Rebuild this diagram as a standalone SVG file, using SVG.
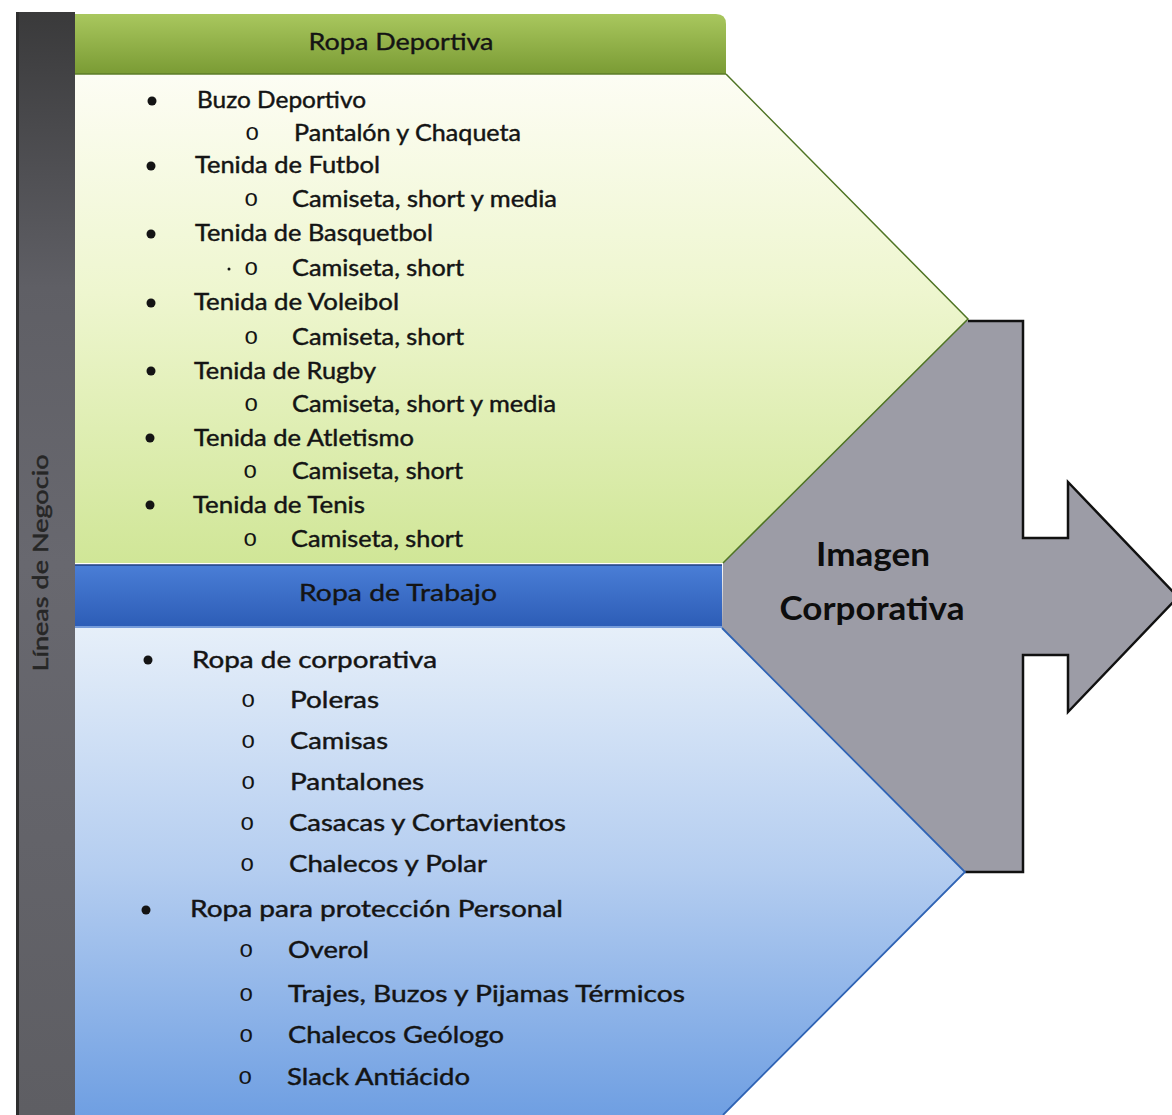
<svg xmlns="http://www.w3.org/2000/svg" width="1172" height="1115" viewBox="0 0 1172 1115">
  <defs>
    <linearGradient id="barGrad" x1="0" y1="12" x2="0" y2="1115" gradientUnits="userSpaceOnUse">
      <stop offset="0" stop-color="#3a3a3b"/>
      <stop offset="0.25" stop-color="#5f5f65"/>
      <stop offset="0.5" stop-color="#68686f"/>
      <stop offset="1" stop-color="#5e5e63"/>
    </linearGradient>
    <linearGradient id="greenHead" x1="0" y1="0" x2="0" y2="1">
      <stop offset="0" stop-color="#a9c75e"/>
      <stop offset="1" stop-color="#7a9b34"/>
    </linearGradient>
    <linearGradient id="greenBody" x1="0" y1="74" x2="0" y2="563" gradientUnits="userSpaceOnUse">
      <stop offset="0" stop-color="#fdfdf4"/>
      <stop offset="0.45" stop-color="#eef6cf"/>
      <stop offset="1" stop-color="#d0e697"/>
    </linearGradient>
    <linearGradient id="blueHead" x1="0" y1="0" x2="0" y2="1">
      <stop offset="0" stop-color="#4a7ed6"/>
      <stop offset="1" stop-color="#2c5cb6"/>
    </linearGradient>
    <linearGradient id="blueBody" x1="0" y1="628" x2="0" y2="1115" gradientUnits="userSpaceOnUse">
      <stop offset="0" stop-color="#e6eff9"/>
      <stop offset="0.5" stop-color="#b4cdf0"/>
      <stop offset="1" stop-color="#6f9fe2"/>
    </linearGradient>
    <style>
      .item { font-family: Lato, "Liberation Sans", sans-serif; font-size: 24px; fill: #141414; stroke: #141414; stroke-width: 0.45px; }
      .mark { font-family: "Liberation Mono", monospace; font-size: 24px; fill: #141414; }
      .head { font-family: Lato, "Liberation Sans", sans-serif; font-size: 23px; fill: #141414; stroke: #141414; stroke-width: 0.35px; text-anchor: middle; }
      .big { font-family: Lato, "Liberation Sans", sans-serif; font-size: 32px; font-weight: bold; fill: #0d0d0d; text-anchor: middle; }
      .side { font-family: Lato, "Liberation Sans", sans-serif; font-size: 22px; fill: #262626; stroke: #262626; stroke-width: 0.5px; text-anchor: middle; }
    </style>
  </defs>

  <rect width="1172" height="1115" fill="#ffffff"/>

  <!-- vertical business-lines bar -->
  <g id="side-bar">
    <rect x="16" y="12" width="59" height="1103" fill="url(#barGrad)"/>
    <rect x="16" y="12" width="3" height="1103" fill="#2e2e2e"/>
    <text class="side" transform="translate(48 563) rotate(-90)" textLength="217" lengthAdjust="spacingAndGlyphs">Líneas de Negocio</text>
  </g>

  <!-- corporate image arrow (behind the two panels) -->
  <g id="corporate-image">
    <polygon points="726,74 968,321 1023,321 1023,538 1068,538 1068,482 1178,597 1068,712 1068,655 1023,655 1023,872 965,872 722,628 723,563" fill="#9c9ca6"/>
    <polyline points="968,321 1023,321 1023,538 1068,538 1068,482 1178,597 1068,712 1068,655 1023,655 1023,872 965,872" fill="none" stroke="#111" stroke-width="2.5" stroke-linejoin="miter"/>
    <text class="big" x="873" y="566" textLength="114" lengthAdjust="spacingAndGlyphs">Imagen</text>
    <text class="big" x="872" y="620" textLength="185" lengthAdjust="spacingAndGlyphs">Corporativa</text>
  </g>

  <!-- sportswear line -->
  <g id="sportswear">
    <polygon points="75,74 726,74 968,319 723,563 75,563" fill="url(#greenBody)"/>
    <polyline points="726,74 968,319 723,563" fill="none" stroke="#4f7424" stroke-width="1.5"/>
    <path d="M75,14 H716 Q726,14 726,24 V74 H75 Z" fill="url(#greenHead)"/>
    <line x1="75" y1="74" x2="726" y2="74" stroke="#5d7d28" stroke-width="1.5"/>
    <text class="head" x="401" y="50" textLength="185" lengthAdjust="spacingAndGlyphs">Ropa Deportiva</text>

    <circle cx="152" cy="101" r="4.5" fill="#141414"/>
    <text class="item" x="197" y="108" textLength="169" lengthAdjust="spacingAndGlyphs">Buzo Deportivo</text>
    <text class="mark" x="245" y="140">o</text>
    <text class="item" x="294" y="141" textLength="227" lengthAdjust="spacingAndGlyphs">Pantalón y Chaqueta</text>

    <circle cx="151" cy="166" r="4.5" fill="#141414"/>
    <text class="item" x="195" y="173" textLength="185" lengthAdjust="spacingAndGlyphs">Tenida de Futbol</text>
    <text class="mark" x="244" y="206">o</text>
    <text class="item" x="292" y="207" textLength="265" lengthAdjust="spacingAndGlyphs">Camiseta, short y media</text>

    <circle cx="151" cy="234" r="4.5" fill="#141414"/>
    <text class="item" x="195" y="241" textLength="238" lengthAdjust="spacingAndGlyphs">Tenida de Basquetbol</text>
    <circle cx="229" cy="269" r="1.5" fill="#141414"/>
    <text class="mark" x="244" y="275">o</text>
    <text class="item" x="292" y="276" textLength="172" lengthAdjust="spacingAndGlyphs">Camiseta, short</text>

    <circle cx="151" cy="303" r="4.5" fill="#141414"/>
    <text class="item" x="194" y="310" textLength="205" lengthAdjust="spacingAndGlyphs">Tenida de Voleibol</text>
    <text class="mark" x="244" y="344">o</text>
    <text class="item" x="292" y="345" textLength="172" lengthAdjust="spacingAndGlyphs">Camiseta, short</text>

    <circle cx="151" cy="371" r="4.5" fill="#141414"/>
    <text class="item" x="194" y="379" textLength="182" lengthAdjust="spacingAndGlyphs">Tenida de Rugby</text>
    <text class="mark" x="244" y="411">o</text>
    <text class="item" x="292" y="412" textLength="264" lengthAdjust="spacingAndGlyphs">Camiseta, short y media</text>

    <circle cx="150" cy="438" r="4.5" fill="#141414"/>
    <text class="item" x="194" y="446" textLength="220" lengthAdjust="spacingAndGlyphs">Tenida de Atletismo</text>
    <text class="mark" x="243" y="478">o</text>
    <text class="item" x="292" y="479" textLength="171" lengthAdjust="spacingAndGlyphs">Camiseta, short</text>

    <circle cx="150" cy="505" r="4.5" fill="#141414"/>
    <text class="item" x="193" y="513" textLength="172" lengthAdjust="spacingAndGlyphs">Tenida de Tenis</text>
    <text class="mark" x="243" y="546">o</text>
    <text class="item" x="291" y="547" textLength="172" lengthAdjust="spacingAndGlyphs">Camiseta, short</text>
  </g>

  <!-- workwear line -->
  <g id="workwear">
    <polygon points="75,628 722,628 965,872 723,1115 75,1115" fill="url(#blueBody)"/>
    <polyline points="722,628 965,872 723,1115" fill="none" stroke="#2f63b4" stroke-width="1.8"/>
    <rect x="75" y="565" width="647" height="63" fill="url(#blueHead)"/>
    <line x1="75" y1="565" x2="722" y2="565" stroke="#1f3f80" stroke-width="1.5"/>
    <line x1="75" y1="627" x2="722" y2="627" stroke="#8fb2e6" stroke-width="1.5"/>
    <text class="head" x="398" y="601" textLength="198" lengthAdjust="spacingAndGlyphs">Ropa de Trabajo</text>

    <circle cx="148" cy="660" r="4.5" fill="#141414"/>
    <text class="item" x="192" y="668" textLength="245" lengthAdjust="spacingAndGlyphs">Ropa de corporativa</text>
    <text class="mark" x="241" y="707">o</text>
    <text class="item" x="290" y="708" textLength="89" lengthAdjust="spacingAndGlyphs">Poleras</text>
    <text class="mark" x="241" y="748">o</text>
    <text class="item" x="290" y="749" textLength="98" lengthAdjust="spacingAndGlyphs">Camisas</text>
    <text class="mark" x="241" y="789">o</text>
    <text class="item" x="290" y="790" textLength="134" lengthAdjust="spacingAndGlyphs">Pantalones</text>
    <text class="mark" x="240" y="830">o</text>
    <text class="item" x="289" y="831" textLength="277" lengthAdjust="spacingAndGlyphs">Casacas y Cortavientos</text>
    <text class="mark" x="240" y="871">o</text>
    <text class="item" x="289" y="872" textLength="198" lengthAdjust="spacingAndGlyphs">Chalecos y Polar</text>

    <circle cx="146" cy="910" r="4.5" fill="#141414"/>
    <text class="item" x="190" y="917" textLength="373" lengthAdjust="spacingAndGlyphs">Ropa para protección Personal</text>
    <text class="mark" x="239" y="957">o</text>
    <text class="item" x="288" y="958" textLength="81" lengthAdjust="spacingAndGlyphs">Overol</text>
    <text class="mark" x="239" y="1001">o</text>
    <text class="item" x="288" y="1002" textLength="397" lengthAdjust="spacingAndGlyphs">Trajes, Buzos y Pijamas Térmicos</text>
    <text class="mark" x="239" y="1042">o</text>
    <text class="item" x="288" y="1043" textLength="216" lengthAdjust="spacingAndGlyphs">Chalecos Geólogo</text>
    <text class="mark" x="238" y="1084">o</text>
    <text class="item" x="287" y="1085" textLength="183" lengthAdjust="spacingAndGlyphs">Slack Antiácido</text>
  </g>
</svg>
